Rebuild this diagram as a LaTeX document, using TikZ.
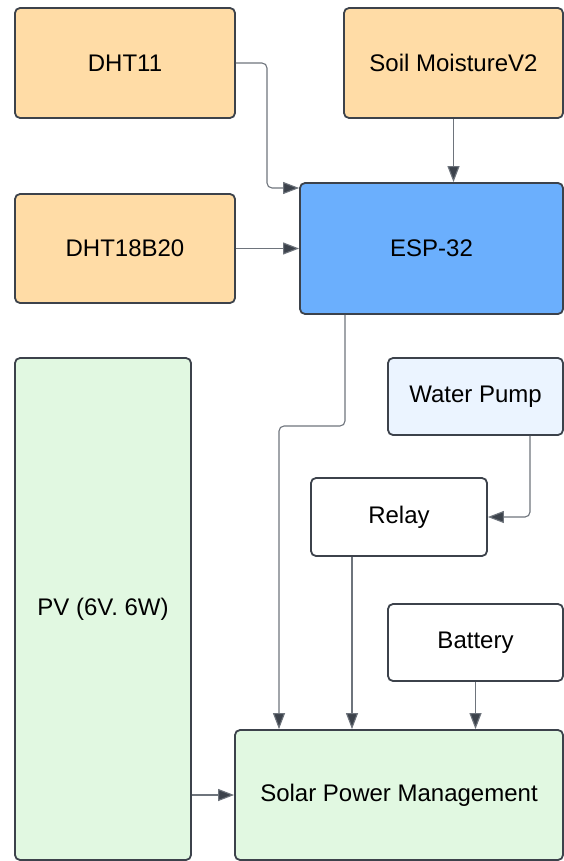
\documentclass[tikz,border=0pt]{standalone}
\usepackage{fontspec}
\setmainfont{Liberation Sans}
\usetikzlibrary{arrows.meta,positioning}
\definecolor{sensorfill}{HTML}{FFDCA6}
\definecolor{espfill}{HTML}{6BAFFD}
\definecolor{powerfill}{HTML}{E1F8E1}
\definecolor{pumpfill}{HTML}{EBF4FF}
\definecolor{edgecol}{HTML}{3C424B}
\definecolor{wirecol}{HTML}{6E747C}
\begin{document}
\begin{tikzpicture}[x=1pt,y=-1pt,
  every node/.style={font=\fontsize{24}{28}\selectfont},
  blk/.style={draw=edgecol,line width=1.8pt,rounded corners=5pt,align=center,inner sep=0pt},
  conn/.style={draw=wirecol,line width=1.1pt,rounded corners=5pt,-{Triangle[length=16pt,width=12pt,fill=edgecol]}}]
\useasboundingbox (0,0) rectangle (564,861);
\node[blk,fill=sensorfill,minimum width=220,minimum height=110] (dht) at (125,63) {DHT11};
\node[blk,fill=sensorfill,minimum width=219,minimum height=110] (soil) at (453.5,63) {Soil MoistureV2};
\node[blk,fill=espfill,minimum width=263,minimum height=131] (esp) at (431.5,248.5) {ESP-32};
\node[blk,fill=sensorfill,minimum width=220,minimum height=109] (dsb) at (125,248.5) {DHT18B20};
\node[blk,fill=powerfill,minimum width=176,minimum height=502] (pv) at (103,609) {PV (6V. 6W)};
\node[blk,fill=pumpfill,minimum width=175,minimum height=77] (pump) at (475.5,396.5) {Water Pump};
\node[blk,fill=white,minimum width=176,minimum height=78] (relay) at (399,517) {Relay};
\node[blk,fill=white,minimum width=175,minimum height=77] (batt) at (475.5,642.5) {Battery};
\node[blk,fill=powerfill,minimum width=328,minimum height=130] (spm) at (399,795) {Solar Power Management};
\draw[conn] (dht.east) -- (267,63) -- (267,188) -- (esp.west |- 0,188);
\draw[conn] (soil.south) -- (esp.north -| soil.south);
\draw[conn] (dsb.east) -- (esp.west |- dsb.east);
\draw[conn] (esp.south -| 345,0) -- (345,426) -- (279,426) -- (spm.north -| 279,0);
\draw[conn] (pump.south -| 530,0) -- (530,517) -- (relay.east);
\draw[conn] (relay.south -| 352,0) -- (spm.north -| 352,0);
\draw[conn] (batt.south) -- (spm.north -| batt.south);
\draw[conn] (pv.east |- spm.west) -- (spm.west);
\end{tikzpicture}
\end{document}
